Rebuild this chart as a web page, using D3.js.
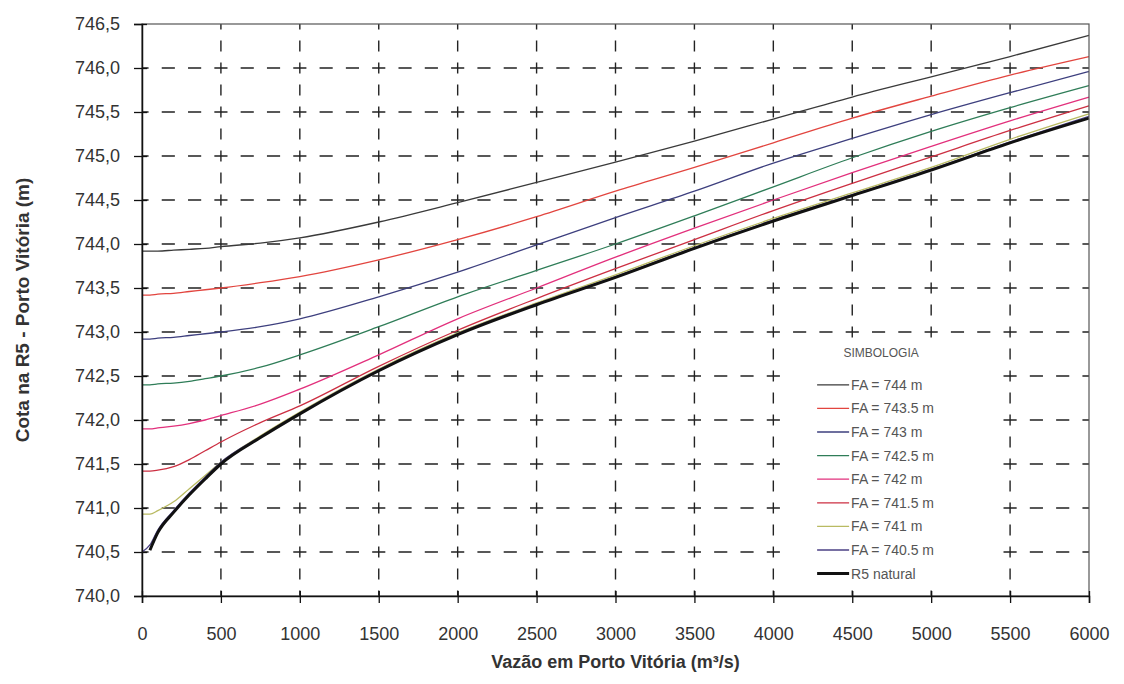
<!DOCTYPE html>
<html>
<head>
<meta charset="utf-8">
<script src="https://cdn.jsdelivr.net/npm/d3@7"></script>
<style>
  body { margin: 0; background: #fff; }
  svg { display: block; font-family: "Liberation Sans", Arial, sans-serif; }
</style>
</head>
<body>
<svg id="chart" width="1124" height="684"></svg>
<script>
// vazao (m3/s) where the curves were read
const flows = [0, 50, 100, 200, 300, 400, 500, 750, 1000, 1500, 2000, 2500, 3000, 3500, 4000, 4500, 5000, 5500, 6000];

const fa744  = [743.92, 743.92, 743.92, 743.93, 743.94, 743.95, 743.97, 744.01, 744.07, 744.25, 744.47, 744.70, 744.93, 745.17, 745.42, 745.67, 745.90, 746.13, 746.37];
const fa7435 = [743.42, 743.42, 743.43, 743.44, 743.46, 743.48, 743.50, 743.56, 743.63, 743.82, 744.05, 744.31, 744.60, 744.87, 745.15, 745.43, 745.68, 745.92, 746.13];
const fa743  = [742.92, 742.92, 742.93, 742.94, 742.96, 742.98, 743.00, 743.06, 743.15, 743.40, 743.68, 743.99, 744.30, 744.60, 744.92, 745.20, 745.47, 745.72, 745.96];
const fa7425 = [742.40, 742.40, 742.41, 742.42, 742.44, 742.47, 742.50, 742.60, 742.74, 743.06, 743.40, 743.70, 744.00, 744.32, 744.65, 744.98, 745.28, 745.55, 745.80];
const fa742  = [741.90, 741.90, 741.91, 741.93, 741.96, 742.00, 742.05, 742.18, 742.35, 742.74, 743.15, 743.50, 743.85, 744.18, 744.50, 744.81, 745.11, 745.40, 745.67];
const fa7415 = [741.42, 741.42, 741.43, 741.47, 741.55, 741.65, 741.75, 741.97, 742.16, 742.61, 743.02, 743.38, 743.72, 744.05, 744.38, 744.69, 744.99, 745.29, 745.57];
const fa741  = [740.93, 740.93, 740.97, 741.07, 741.22, 741.37, 741.52, 741.82, 742.09, 742.58, 742.99, 743.33, 743.65, 743.98, 744.29, 744.58, 744.87, 745.19, 745.48];
const fa7405 = [740.50, 740.58, 740.75, 740.97, 741.17, 741.35, 741.52, 741.81, 742.08, 742.57, 742.98, 743.32, 743.63, 743.96, 744.27, 744.56, 744.85, 745.16, 745.45];
const natural = [null, 740.52, 740.72, 740.95, 741.15, 741.33, 741.50, 741.80, 742.07, 742.56, 742.97, 743.31, 743.62, 743.95, 744.26, 744.55, 744.84, 745.15, 745.43];

const seriesNames = ["FA = 744 m", "FA = 743.5 m", "FA = 743 m", "FA = 742.5 m", "FA = 742 m", "FA = 741.5 m", "FA = 741 m", "FA = 740.5 m", "R5 natural"];
const seriesValues = [fa744, fa7435, fa743, fa7425, fa742, fa7415, fa741, fa7405, natural];
const seriesColors = ["#3a3a3a", "#e2453f", "#3d3f7e", "#2f7d58", "#e2307c", "#cc2f42", "#b9ba62", "#4b4185", "#111111"];
const seriesWidths = [1.3, 1.3, 1.3, 1.3, 1.3, 1.3, 1.3, 1.3, 3];

const xTicks = d3.range(0, 6001, 500);
const yTicks = d3.range(740, 746.51, 0.5);

const margin = { top: 24, right: 35, bottom: 88, left: 142 };
const width = 1124 - margin.left - margin.right;
const height = 684 - margin.top - margin.bottom;

const svg = d3.select("#chart");
const g = svg.append("g").attr("transform", `translate(${margin.left},${margin.top})`);

const x = d3.scaleLinear().domain([0, 6000]).range([0, width]);
const y = d3.scaleLinear().domain([740, 746.5]).range([height, 0]);

const ptBR = d3.formatLocale({ decimal: ",", thousands: ".", grouping: [3], currency: ["R$", ""] });

// grid (dashed, excel style)
const xStep = x(500) - x(0);
const yStep = y(740) - y(740.5);
g.append("g")
  .selectAll("line")
  .data(yTicks.slice(1, -1))
  .join("line")
  .attr("x1", 0).attr("x2", width)
  .attr("y1", d => y(d)).attr("y2", d => y(d))
  .attr("stroke", "#222")
  .attr("stroke-width", 1.4)
  .attr("stroke-dasharray", `${xStep / 6},${xStep / 6}`)
  .attr("stroke-dashoffset", xStep / 12);

g.append("g")
  .selectAll("line")
  .data(xTicks.slice(1, -1))
  .join("line")
  .attr("x1", d => x(d)).attr("x2", d => x(d))
  .attr("y1", height).attr("y2", 0)
  .attr("stroke", "#222")
  .attr("stroke-width", 1.4)
  .attr("stroke-dasharray", `${yStep / 4},${yStep / 4}`)
  .attr("stroke-dashoffset", yStep / 8);

// legend box hides the grid behind it
const legend = g.append("g").attr("transform", `translate(${x(4100)},${y(742.9)})`);
legend.append("rect")
  .attr("width", x(5400) - x(4100))
  .attr("height", y(740.12) - y(742.9))
  .attr("fill", "#fff");

// curves
const line = d3.line()
  .defined(d => d[1] != null)
  .x(d => x(d[0]))
  .y(d => y(d[1]))
  .curve(d3.curveMonotoneX);

g.append("g")
  .selectAll("path")
  .data(seriesValues)
  .join("path")
  .attr("fill", "none")
  .attr("stroke", (d, i) => seriesColors[i])
  .attr("stroke-width", (d, i) => seriesWidths[i])
  .attr("d", vals => line(flows.map((q, j) => [q, vals[j]])));

// frame
g.append("rect")
  .attr("width", width).attr("height", height)
  .attr("fill", "none")
  .attr("stroke", "#555")
  .attr("stroke-width", 1.2);

// axes
const yAxis = g.append("g")
  .call(d3.axisLeft(y).tickValues(yTicks).tickFormat(ptBR.format(".1f")).tickSize(8).tickPadding(14));
yAxis.select(".domain").attr("stroke", "#111").attr("stroke-width", 1.5);
yAxis.selectAll(".tick line").attr("stroke", "#111").attr("stroke-width", 1.3).attr("x2", -8).attr("x1", 5);
yAxis.selectAll("text").attr("font-size", 18).attr("fill", "#333");

const xAxis = g.append("g")
  .attr("transform", `translate(0,${height})`)
  .call(d3.axisBottom(x).tickValues(xTicks).tickFormat(d3.format("d")).tickSize(7).tickPadding(24));
xAxis.select(".domain").attr("stroke", "#111").attr("stroke-width", 1.5);
xAxis.selectAll(".tick line").attr("stroke", "#111").attr("stroke-width", 1.3).attr("y1", -5);
xAxis.selectAll("text").attr("font-size", 18).attr("fill", "#333");

// titles
svg.append("text")
  .attr("x", margin.left + width / 2)
  .attr("y", 668)
  .attr("text-anchor", "middle")
  .attr("font-size", 18)
  .attr("font-weight", "bold")
  .attr("fill", "#333")
  .text("Vazão em Porto Vitória (m³/s)");

svg.append("text")
  .attr("transform", `translate(29,${margin.top + height / 2}) rotate(-90)`)
  .attr("text-anchor", "middle")
  .attr("font-size", 19)
  .attr("font-weight", "bold")
  .attr("fill", "#333")
  .text("Cota na R5 - Porto Vitória (m)");

// legend entries
legend.append("text")
  .attr("x", 92).attr("y", 16)
  .attr("text-anchor", "middle")
  .attr("font-size", 12)
  .attr("fill", "#555")
  .text("SIMBOLOGIA");

const rows = legend.selectAll(".row")
  .data(seriesNames)
  .join("g")
  .attr("class", "row")
  .attr("transform", (d, i) => `translate(0,${44 + i * 23.6})`);
rows.append("line")
  .attr("x1", 28).attr("x2", 60)
  .attr("stroke", (d, i) => seriesColors[i])
  .attr("stroke-width", (d, i) => seriesWidths[i]);
rows.append("text")
  .attr("x", 62).attr("y", 5)
  .attr("font-size", 14)
  .attr("fill", "#555")
  .text(d => d);
</script>
</body>
</html>
